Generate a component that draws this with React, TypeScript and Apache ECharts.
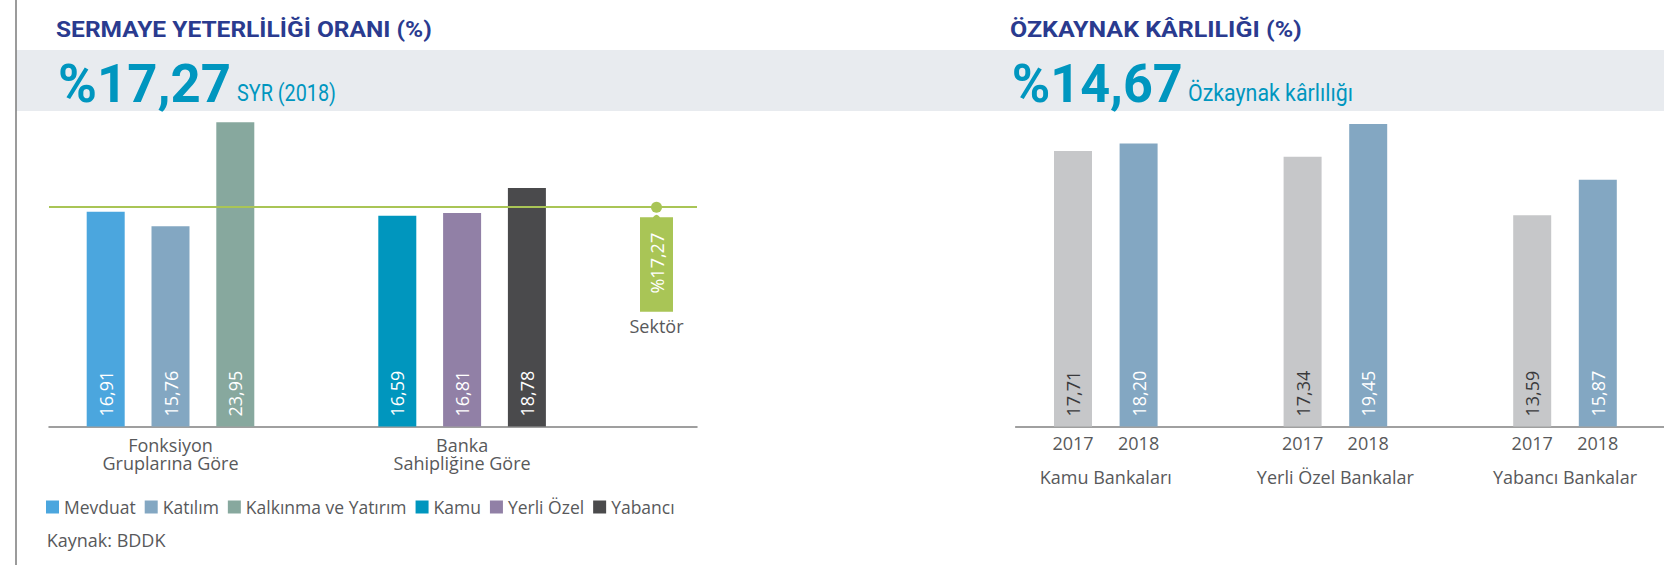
import React, { useEffect, useRef } from 'react';
import * as echarts from 'echarts';

// ---------------- data ----------------
const leftTitle = 'SERMAYE YETERLİLİĞİ ORANI (%)';
const leftHeadline = '%17,27';
const leftHeadlineCaption = 'SYR (2018)';
const rightTitle = 'ÖZKAYNAK KÂRLILIĞI (%)';
const rightHeadline = '%14,67';
const rightHeadlineCaption = 'Özkaynak kârlılığı';

const carSeriesNames = ['Mevduat', 'Katılım', 'Kalkınma ve Yatırım', 'Kamu', 'Yerli Özel', 'Yabancı'];
const carValues = [16.91, 15.76, 23.95, 16.59, 16.81, 18.78];
const carGroupLabels = ['Fonksiyon\nGruplarına Göre', 'Banka\nSahipliğine Göre'];
const sectorName = 'Sektör';
const sectorValue = 17.27;

const roeGroups = ['Kamu Bankaları', 'Yerli Özel Bankalar', 'Yabancı Bankalar'];
const roeYears = ['2017', '2018'];
const roe2017 = [17.71, 17.34, 13.59];
const roe2018 = [18.2, 19.45, 15.87];

const sourceNote = 'Kaynak: BDDK';

// ---------------- styling / layout ----------------
const FONT = "'Open Sans', 'Noto Sans', sans-serif";
const HEAD_FONT = "Roboto, 'Noto Sans', sans-serif";
const TEXT_GRAY = '#58595B';
const AXIS_GRAY = '#808080';
const NAVY = '#2A3B8F';
const TEAL = '#0096BF';
const carColors = ['#4BA6DE', '#83A7C2', '#87A89E', '#0096BE', '#9180A6', '#4A4A4C'];
const sectorColor = '#A9C556';
const roeColors = ['#C6C7C9', '#83A7C2'];
const roeLabelColors = ['#3A3A3C', '#FFFFFF'];

const SLOTS = 40;
const carSlots = [3, 7, 11, 21, 25, 29];
const carGroupSlots = [7, 25];
const sectorSlot = 37;
const roeGroupStart = [3, 17, 31];
const roeYearStep = 4;

const fmt = (v: number) => Number(v).toFixed(2).replace('.', ',');

const slotArray = (pairs: Array<[number, number]>) => {
  const arr: any[] = Array.from({ length: SLOTS }, () => '-');
  pairs.forEach(([s, v]) => {
    arr[s] = v;
  });
  return arr;
};

const keys = (p: string) => Array.from({ length: SLOTS }, (_, k) => p + k);

function fitScale(text: string, font: string, target: number) {
  const ctx = document.createElement('canvas').getContext('2d');
  if (!ctx) return 1;
  ctx.font = font;
  const w = ctx.measureText(text).width;
  return w > 0 ? target / w : 1;
}

const barLabel = (color: string) => ({
  show: true,
  position: 'insideBottom',
  rotate: 90,
  align: 'left',
  verticalAlign: 'middle',
  distance: 10,
  color,
  fontSize: 18,
  fontFamily: FONT,
  formatter: (p: any) => fmt(p.value),
});

function headText(text: string, x: number, y: number, size: number, weight: string, color: string, targetWidth: number) {
  const font = `${weight} ${size}px Roboto`;
  return {
    type: 'text',
    x,
    y,
    scaleX: fitScale(text, font, targetWidth),
    style: {
      text,
      fill: color,
      fontSize: size,
      fontFamily: HEAD_FONT,
      fontWeight: weight,
      align: 'left',
      verticalAlign: 'middle',
    },
  };
}

export default function App() {
  const ref = useRef<HTMLDivElement>(null);

  useEffect(() => {
    if (!ref.current) return;
    const chart = echarts.init(ref.current, undefined, { renderer: 'svg' });

    const leftLabels: string[] = Array(SLOTS).fill('');
    carGroupSlots.forEach((s, i) => {
      leftLabels[s] = carGroupLabels[i];
    });

    const rightLabels: string[] = Array(SLOTS).fill('');
    roeGroups.forEach((g, i) => {
      rightLabels[roeGroupStart[i]] = `{y|${roeYears[0]}}`;
      rightLabels[roeGroupStart[i] + roeYearStep] = `{y|${roeYears[1]}}`;
      rightLabels[roeGroupStart[i] + roeYearStep / 2] = `{e| }\n{g|${g}}`;
    });

    const carSeries = carSeriesNames.map((name, i) => ({
      name,
      type: 'bar',
      xAxisIndex: 0,
      yAxisIndex: 0,
      stack: 'car',
      barWidth: 38,
      itemStyle: { color: carColors[i] },
      label: barLabel('#FFFFFF'),
      data: slotArray([[carSlots[i], carValues[i]]]),
    }));

    const roeSeries = [roe2017, roe2018].map((vals, yi) => ({
      name: roeYears[yi],
      type: 'bar',
      xAxisIndex: 1,
      yAxisIndex: 1,
      stack: 'roe',
      barWidth: 38,
      itemStyle: { color: roeColors[yi] },
      label: barLabel(roeLabelColors[yi]),
      data: slotArray(vals.map((v, g) => [roeGroupStart[g] + yi * roeYearStep, v] as [number, number])),
    }));

    const option: any = {
      animation: false,
      textStyle: { fontFamily: FONT },
      grid: [
        { left: 49, top: 109, width: 648, height: 317.5, containLabel: false, outerBoundsMode: 'none' },
        { left: 1015.6, top: 115.5, width: 656, height: 311, containLabel: false, outerBoundsMode: 'none' },
      ],
      xAxis: [
        {
          type: 'category',
          gridIndex: 0,
          data: keys('l'),
          axisLine: { lineStyle: { color: AXIS_GRAY, width: 1.5 } },
          axisTick: { show: false },
          splitLine: { show: false },
          axisLabel: {
            interval: 0,
            margin: 9,
            color: TEXT_GRAY,
            fontSize: 18,
            lineHeight: 18,
            fontFamily: FONT,
            formatter: (v: string) => leftLabels[Number(v.slice(1))] || '',
          },
        },
        {
          type: 'category',
          gridIndex: 1,
          data: keys('r'),
          axisLine: { lineStyle: { color: AXIS_GRAY, width: 1.5 } },
          axisTick: { show: false },
          splitLine: { show: false },
          axisLabel: {
            interval: 0,
            margin: 4,
            color: TEXT_GRAY,
            fontSize: 18,
            fontFamily: FONT,
            formatter: (v: string) => rightLabels[Number(v.slice(1))] || '',
            rich: {
              y: { fontSize: 18, lineHeight: 24, color: TEXT_GRAY, fontFamily: FONT },
              e: { fontSize: 18, lineHeight: 24 },
              g: { fontSize: 18, lineHeight: 44, color: TEXT_GRAY, fontFamily: FONT },
            },
          },
        },
      ],
      yAxis: [
        { type: 'value', gridIndex: 0, min: 0, max: 25, show: false, splitLine: { show: false } },
        { type: 'value', gridIndex: 1, min: 0, max: 20, show: false, splitLine: { show: false } },
      ],
      legend: {
        data: carSeriesNames,
        left: 46,
        top: 497,
        padding: 0,
        icon: 'rect',
        itemWidth: 13,
        itemHeight: 13,
        itemGap: 9,
        selectedMode: false,
        textStyle: { color: TEXT_GRAY, fontSize: 17.5, fontFamily: FONT, lineHeight: 20 },
      },
      series: [
        ...carSeries,
        {
          name: sectorName,
          type: 'scatter',
          xAxisIndex: 0,
          yAxisIndex: 0,
          silent: true,
          z: 3,
          symbol: 'path://M0,5 L13,5 Q16.5,0 20,5 L33,5 L33,97 L0,97 Z',
          symbolSize: [33, 97],
          symbolOffset: [0, 56],
          itemStyle: { color: sectorColor, opacity: 1 },
          label: {
            show: true,
            position: 'inside',
            rotate: 90,
            color: '#FFFFFF',
            fontSize: 18,
            fontFamily: FONT,
            formatter: (p: any) => '%' + fmt(Array.isArray(p.value) ? p.value[1] : p.value),
          },
          data: slotArray([[sectorSlot, sectorValue]]),
        },
        {
          name: sectorName + ' ',
          type: 'scatter',
          xAxisIndex: 0,
          yAxisIndex: 0,
          silent: true,
          z: 4,
          symbol: 'circle',
          symbolSize: 11,
          itemStyle: { color: sectorColor, opacity: 1 },
          label: {
            show: true,
            position: 'bottom',
            distance: 104,
            color: TEXT_GRAY,
            fontSize: 18,
            fontFamily: FONT,
            formatter: () => sectorName,
          },
          data: slotArray([[sectorSlot, sectorValue]]),
          markLine: {
            silent: true,
            symbol: ['none', 'none'],
            label: { show: false },
            lineStyle: { color: sectorColor, width: 2, type: 'solid', opacity: 1 },
            data: [{ yAxis: sectorValue }],
          },
        },
        ...roeSeries,
      ],
      graphic: [
        { type: 'rect', z: -1, shape: { x: 16, y: 50, width: 1648, height: 61 }, style: { fill: '#E8EBEF' } },
        { type: 'line', shape: { x1: 16, y1: 0, x2: 16, y2: 565 }, style: { stroke: '#7A7A7A', lineWidth: 1.5 } },
        headText(leftTitle, 56, 29.5, 22, 'bold', NAVY, 376),
        headText(leftHeadline, 58, 84, 53, 'bold', TEAL, 173),
        headText(leftHeadlineCaption, 237, 93, 23, 'normal', TEAL, 99),
        headText(rightTitle, 1010, 29.5, 22, 'bold', NAVY, 292),
        headText(rightHeadline, 1011.7, 84, 53, 'bold', TEAL, 171),
        headText(rightHeadlineCaption, 1188, 93, 23, 'normal', TEAL, 165),
        {
          type: 'text',
          x: 46.7,
          y: 540,
          style: {
            text: sourceNote,
            fill: TEXT_GRAY,
            fontSize: 18,
            fontFamily: FONT,
            align: 'left',
            verticalAlign: 'middle',
          },
        },
      ],
    };

    chart.setOption(option);
    return () => chart.dispose();
  }, []);

  return <div ref={ref} style={{ position: 'absolute', left: 0, top: 0, width: 1664, height: 565 }} />;
}
